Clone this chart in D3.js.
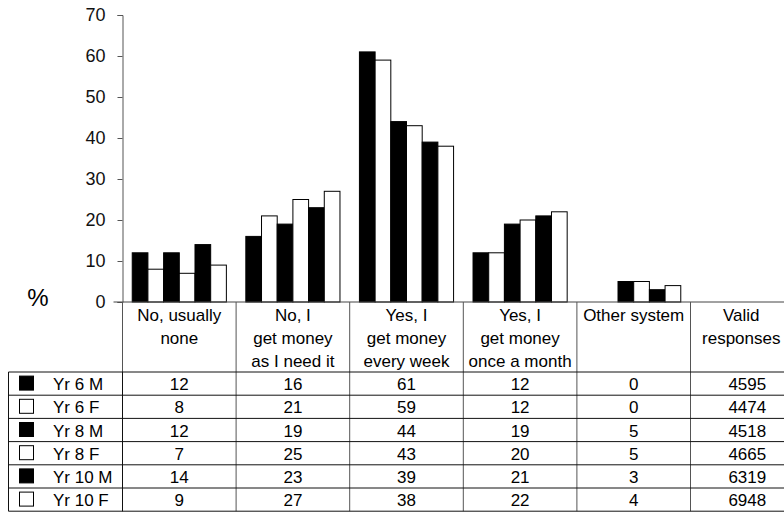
<!DOCTYPE html>
<html>
<head>
<meta charset="utf-8">
<script src="https://cdn.jsdelivr.net/npm/d3@7/dist/d3.min.js"></script>
<style>
  html, body { margin: 0; padding: 0; background: #fff; }
  svg { display: block; font-family: "Liberation Sans", Arial, sans-serif; }
</style>
</head>
<body>
<svg id="chart" width="784" height="512"></svg>
<script>
// ---- data ----
const categories = ["No, usually none", "No, I get money as I need it", "Yes, I get money every week", "Yes, I get money once a month", "Other system", "Valid responses"];
const headerLines = [["No, usually", "none"], ["No, I", "get money", "as I need it"], ["Yes, I", "get money", "every week"], ["Yes, I", "get money", "once a month"], ["Other system"], ["Valid", "responses"]];
const seriesNames = ["Yr 6 M", "Yr 6 F", "Yr 8 M", "Yr 8 F", "Yr 10 M", "Yr 10 F"];
const seriesFill = ["#000", "#fff", "#000", "#fff", "#000", "#fff"];
const yr6M = [12, 16, 61, 12, 0];
const yr6F = [8, 21, 59, 12, 0];
const yr8M = [12, 19, 44, 19, 5];
const yr8F = [7, 25, 43, 20, 5];
const yr10M = [14, 23, 39, 21, 3];
const yr10F = [9, 27, 38, 22, 4];
const validResponses = [4595, 4474, 4518, 4665, 6319, 6948];
const yTicks = [0, 10, 20, 30, 40, 50, 60, 70];

const seriesValues = [yr6M, yr6F, yr8M, yr8F, yr10M, yr10F];

// ---- layout ----
const W = 784, H = 512;
const plotLeft = 122.5, colW = 113.6;
const yTop = 15, yBase = 302;
const headerH = 70, rowH = 23.2;
const tableLeft = 8.5;
const fontSize = 17;

const svg = d3.select("#chart");

const x = d3.scaleBand().domain(categories).range([plotLeft, plotLeft + colW * categories.length]).padding(0);
const xs = d3.scaleBand().domain(seriesNames).range([0, x.bandwidth()]).paddingInner(0).paddingOuter(0.62);
const y = d3.scaleLinear().domain([0, 70]).range([yBase, yTop]);

// bars
const barData = [];
seriesNames.forEach((s, si) => {
  seriesValues[si].forEach((v, ci) => {
    barData.push({ s, si, cat: categories[ci], v });
  });
});
svg.append("g").selectAll("rect")
  .data(barData.filter(d => d.v > 0))
  .join("rect")
  .attr("x", d => x(d.cat) + xs(d.s))
  .attr("y", d => y(d.v))
  .attr("width", xs.bandwidth())
  .attr("height", d => y(0) - y(d.v))
  .attr("fill", d => seriesFill[d.si])
  .attr("stroke", "#000")
  .attr("stroke-width", 1);

// y axis
const yAxis = d3.axisLeft(y).tickValues(yTicks).tickSize(5).tickPadding(12);
const gy = svg.append("g").attr("transform", `translate(${plotLeft},0)`).call(yAxis);
gy.select(".domain").attr("stroke", "#555");
gy.selectAll(".tick line").attr("stroke", "#555");
gy.selectAll(".tick text").attr("font-size", 18).attr("fill", "#111").style("font-family", "Liberation Sans, Arial, sans-serif");

// x axis line
svg.append("line").attr("x1", plotLeft - 9).attr("x2", W).attr("y1", yBase).attr("y2", yBase).attr("stroke", "#444");

// % label
svg.append("text").attr("x", 38).attr("y", yBase - 5).attr("text-anchor", "middle")
  .attr("dominant-baseline", "central").attr("font-size", 24).text("%");

// ---- table ----
const tableTop = yBase;
const rowsTop = tableTop + headerH;
const tableBottom = rowsTop + rowH * seriesNames.length;
const vlines = svg.append("g").attr("stroke", "#555").attr("stroke-width", 1);
const hlines = svg.append("g").attr("stroke", "#111").attr("stroke-width", 1);

// vertical column lines (left of each column)
categories.forEach(c => {
  vlines.append("line").attr("x1", x(c)).attr("x2", x(c)).attr("y1", tableTop).attr("y2", tableBottom);
});
// legend column left border
hlines.append("line").attr("x1", tableLeft).attr("x2", tableLeft).attr("y1", rowsTop).attr("y2", tableBottom);
hlines.append("line").attr("x1", plotLeft).attr("x2", plotLeft).attr("y1", rowsTop).attr("y2", tableBottom);
// horizontal row lines
for (let i = 0; i <= seriesNames.length; i++) {
  const yy = rowsTop + i * rowH;
  hlines.append("line").attr("x1", tableLeft).attr("x2", W).attr("y1", yy).attr("y2", yy);
}

// header text
categories.forEach((c, ci) => {
  let cx = x(c) + x.bandwidth() / 2;
  if (x(c) + x.bandwidth() > W) cx = (x(c) + W) / 2 + 4;
  headerLines[ci].forEach((ln, li) => {
    svg.append("text").attr("x", cx).attr("y", tableTop + 13 + li * 23.2)
      .attr("text-anchor", "middle").attr("dominant-baseline", "central")
      .attr("font-size", fontSize).text(ln);
  });
});

// rows
seriesNames.forEach((s, si) => {
  const cy = rowsTop + si * rowH + rowH / 2;
  svg.append("rect").attr("x", 19.5).attr("y", cy - 7.5).attr("width", 14).attr("height", 14)
    .attr("fill", seriesFill[si]).attr("stroke", "#000");
  svg.append("text").attr("x", 53).attr("y", cy + 1).attr("dominant-baseline", "central")
    .attr("font-size", fontSize).text(s);
  const vals = seriesValues[si].concat([validResponses[si]]);
  vals.forEach((v, ci) => {
    svg.append("text").attr("x", x(categories[ci]) + x.bandwidth() / 2).attr("y", cy + 1)
      .attr("text-anchor", "middle").attr("dominant-baseline", "central")
      .attr("font-size", fontSize).text(v);
  });
});
</script>
</body>
</html>
